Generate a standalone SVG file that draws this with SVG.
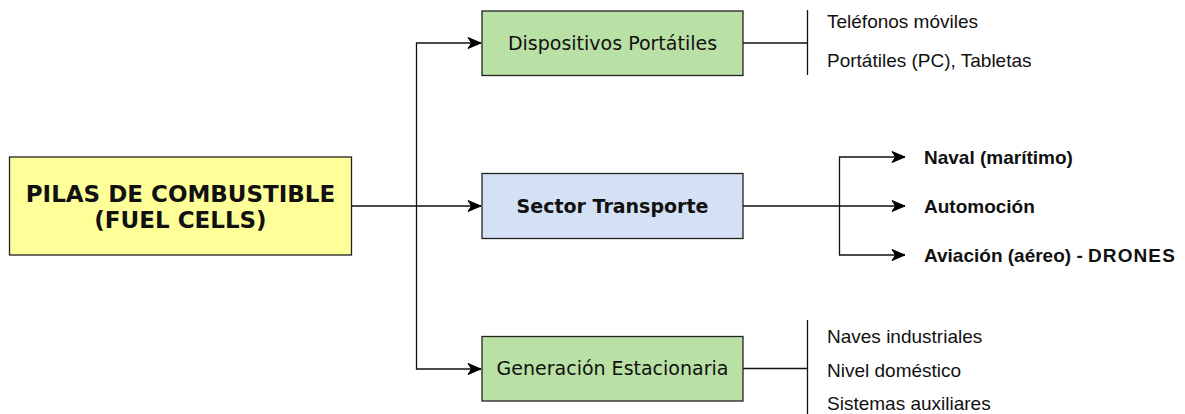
<svg xmlns="http://www.w3.org/2000/svg" width="1185" height="414" viewBox="0 0 1185 414">
<defs>
<marker id="arr" markerUnits="userSpaceOnUse" markerWidth="16" markerHeight="14" viewBox="-14 -7 16 14" refX="0" refY="0" orient="auto">
<path d="M0,0 L-13,-5.5 L-9.5,0 L-13,5.5 Z" fill="#000" stroke="#000" stroke-width="1"/>
</marker>
<style>
.box{stroke:#222;stroke-width:1.3}
.lbl{font-family:"DejaVu Sans",Verdana,sans-serif;font-size:19px;fill:#111;text-anchor:middle}
.title{font-family:"DejaVu Sans",Verdana,sans-serif;font-size:23px;font-weight:bold;fill:#111;text-anchor:middle}
.item{font-family:"Liberation Sans",Arial,sans-serif;font-size:19px;fill:#111}
.itemb{font-family:"Liberation Sans",Arial,sans-serif;font-size:19px;font-weight:bold;fill:#111}
.ln{fill:none;stroke:#111;stroke-width:1.3}
</style>
</defs>
<rect width="1185" height="414" fill="#fff"/>
<g id="connectors">
<path class="ln" d="M352,206 H481" marker-end="url(#arr)"/>
<path class="ln" d="M416.5,206 V43 H481" marker-end="url(#arr)"/>
<path class="ln" d="M416.5,206 V369 H481" marker-end="url(#arr)"/>
<path class="ln" d="M743,43 H807.5"/>
<path class="ln" d="M807.5,10 V75"/>
<path class="ln" d="M743,206 H905" marker-end="url(#arr)"/>
<path class="ln" d="M839.5,206 V157 H905" marker-end="url(#arr)"/>
<path class="ln" d="M839.5,206 V255 H905" marker-end="url(#arr)"/>
<path class="ln" d="M743,368.5 H807.5"/>
<path class="ln" d="M807.5,320 V414"/>
</g>
<g id="main">
<rect class="box" x="9.5" y="157" width="342" height="98" fill="#FFFF99"/>
<text class="title" x="180.5" y="202">PILAS DE COMBUSTIBLE</text>
<text class="title" x="180.5" y="228">(FUEL CELLS)</text>
</g>
<g id="portatiles">
<rect class="box" x="482" y="11" width="261" height="64.5" fill="#B9E0A5"/>
<text class="lbl" x="612.5" y="50">Dispositivos Portátiles</text>
</g>
<g id="portatiles-items">
<text class="item" x="827" y="28">Teléfonos móviles</text>
<text class="item" x="827" y="67">Portátiles (PC), Tabletas</text>
</g>
<g id="transporte">
<rect class="box" x="482" y="173.5" width="261" height="65" fill="#D4E1F5"/>
<text class="lbl" x="612.5" y="213" font-weight="bold">Sector Transporte</text>
</g>
<g id="naval"><text class="itemb" x="924" y="164">Naval (marítimo)</text></g>
<g id="automocion"><text class="itemb" x="924" y="213">Automoción</text></g>
<g id="aviacion"><text class="itemb" x="924" y="262">Aviación (aéreo) - <tspan letter-spacing="1.1">DRONES</tspan></text></g>
<g id="estacionaria">
<rect class="box" x="482" y="336.5" width="261" height="64.5" fill="#B9E0A5"/>
<text class="lbl" x="612.5" y="375">Generación Estacionaria</text>
</g>
<g id="estacionaria-items">
<text class="item" x="827" y="343">Naves industriales</text>
<text class="item" x="827" y="377">Nivel doméstico</text>
<text class="item" x="827" y="410">Sistemas auxiliares</text>
</g>
</svg>
